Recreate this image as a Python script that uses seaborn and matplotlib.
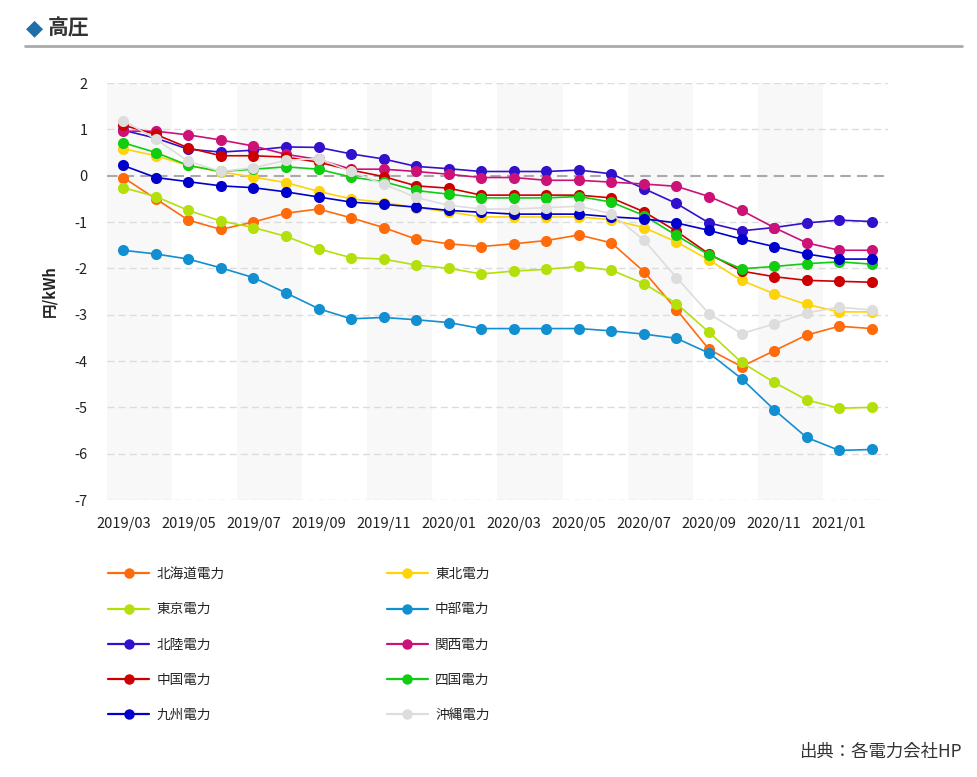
import matplotlib
matplotlib.use("Agg")
import matplotlib.pyplot as plt
import seaborn as sns
import pandas as pd
from matplotlib.lines import Line2D

months = ["2019/03", "2019/04", "2019/05", "2019/06", "2019/07", "2019/08", "2019/09", "2019/10",
          "2019/11", "2019/12", "2020/01", "2020/02", "2020/03", "2020/04", "2020/05", "2020/06",
          "2020/07", "2020/08", "2020/09", "2020/10", "2020/11", "2020/12", "2021/01", "2021/02"]

hokkaido = [-0.04, -0.50, -0.96, -1.16, -1.00, -0.81, -0.72, -0.91, -1.12, -1.37, -1.47, -1.53,
            -1.47, -1.40, -1.28, -1.45, -2.07, -2.89, -3.75, -4.12, -3.78, -3.44, -3.25, -3.30]
tohoku = [0.58, 0.43, 0.22, 0.08, -0.03, -0.15, -0.34, -0.50, -0.58, -0.69, -0.78, -0.89,
          -0.89, -0.89, -0.89, -0.95, -1.12, -1.43, -1.82, -2.26, -2.55, -2.78, -2.94, -2.94]
tokyo = [-0.26, -0.45, -0.75, -0.98, -1.12, -1.31, -1.58, -1.77, -1.80, -1.93, -2.00, -2.12,
         -2.06, -2.02, -1.96, -2.04, -2.33, -2.76, -3.38, -4.03, -4.46, -4.84, -5.02, -5.00]
chubu = [-1.61, -1.69, -1.80, -1.99, -2.20, -2.53, -2.87, -3.09, -3.06, -3.11, -3.17, -3.30,
         -3.30, -3.30, -3.30, -3.35, -3.42, -3.51, -3.83, -4.38, -5.05, -5.65, -5.93, -5.91]
hokuriku = [0.98, 0.81, 0.57, 0.51, 0.55, 0.62, 0.61, 0.47, 0.36, 0.20, 0.15, 0.09,
            0.09, 0.09, 0.12, 0.04, -0.28, -0.60, -1.02, -1.19, -1.12, -1.02, -0.96, -0.99]
kansai = [0.96, 0.96, 0.88, 0.77, 0.64, 0.46, 0.35, 0.14, 0.14, 0.09, 0.03, -0.04,
          -0.04, -0.10, -0.10, -0.14, -0.18, -0.23, -0.45, -0.75, -1.12, -1.45, -1.61, -1.61]
chugoku = [1.09, 0.89, 0.60, 0.43, 0.43, 0.40, 0.29, 0.12, -0.02, -0.22, -0.27, -0.42,
           -0.42, -0.42, -0.42, -0.48, -0.78, -1.20, -1.69, -2.06, -2.18, -2.26, -2.28, -2.30]
shikoku = [0.71, 0.50, 0.22, 0.09, 0.14, 0.19, 0.14, -0.03, -0.13, -0.32, -0.40, -0.48,
           -0.48, -0.48, -0.45, -0.57, -0.86, -1.29, -1.71, -2.01, -1.96, -1.90, -1.86, -1.91]
kyushu = [0.22, -0.04, -0.13, -0.22, -0.26, -0.35, -0.46, -0.57, -0.62, -0.68, -0.75, -0.79,
          -0.83, -0.83, -0.83, -0.89, -0.93, -1.02, -1.18, -1.37, -1.53, -1.69, -1.80, -1.80]
okinawa = [1.19, 0.79, 0.31, 0.09, 0.17, 0.33, 0.37, 0.09, -0.18, -0.47, -0.64, -0.72,
           -0.72, -0.69, -0.66, -0.82, -1.39, -2.20, -2.98, -3.41, -3.20, -2.96, -2.84, -2.90]

companies = ["北海道電力", "東北電力", "東京電力", "中部電力", "北陸電力",
             "関西電力", "中国電力", "四国電力", "九州電力", "沖縄電力"]
series = [hokkaido, tohoku, tokyo, chubu, hokuriku, kansai, chugoku, shikoku, kyushu, okinawa]
colors = ["#ff6a0a", "#ffd30a", "#b3e00b", "#118fd0", "#3311cc",
          "#cc1177", "#cc0000", "#11cc11", "#0000cc", "#dddddd"]
y_ticks = [2, 1, 0, -1, -2, -3, -4, -5, -6, -7]

rows = []
for name, vals in zip(companies, series):
    for i, v in enumerate(vals):
        rows.append({"idx": i, "month": months[i], "company": name, "value": v})
df = pd.DataFrame(rows)

sns.set_theme(style="white")
plt.rcParams["font.family"] = ["Noto Sans CJK JP", "DejaVu Sans"]

W, H = 977, 777
fig = plt.figure(figsize=(W / 100, H / 100), dpi=100)

def px_axes(x0, y0, x1, y1):
    return fig.add_axes([x0 / W, 1 - y1 / H, (x1 - x0) / W, (y1 - y0) / H])

ax = px_axes(107, 83, 888, 500)

# alternating bands
n = len(months)
for start in range(0, n, 4):
    ax.axvspan(start - 0.5, start + 1.5, color="#f8f8f8", zorder=0, lw=0)

for t in y_ticks:
    if t == 0:
        ax.axhline(t, color="#aaaaaa", lw=1.5, ls=(0, (5, 3)), zorder=1)
    else:
        ax.axhline(t, color="#dcdcdc", lw=1.0, ls=(0, (5, 3)), zorder=1)

sns.lineplot(data=df, x="idx", y="value", hue="company", hue_order=companies,
             palette=colors, marker="o", markersize=8, markeredgewidth=0,
             linewidth=1.2, ax=ax, legend=True, zorder=3)

ax.get_legend().remove()

ax.set_xlim(-0.5, n - 0.5)
ax.set_ylim(-7, 2)
ax.set_xticks(range(0, n, 2))
ax.set_xticklabels(months[0::2])
ax.set_yticks(y_ticks)
ax.set_yticklabels([str(t) for t in y_ticks])
ax.tick_params(axis="both", length=0, labelsize=10.5, colors="#222222")
ax.tick_params(axis="y", pad=14)
ax.tick_params(axis="x", pad=12)
ax.set_xlabel("")
ax.set_ylabel("円/kWh", fontsize=10.5, fontweight="bold", color="#222222", labelpad=12)
for s in ax.spines.values():
    s.set_visible(False)
ax.set_facecolor("white")

# legend: column-major order
order = [0, 2, 4, 6, 8, 1, 3, 5, 7, 9]
leg_handles = []
for k in order:
    leg_handles.append(Line2D([0], [0], color=colors[k], lw=1.6, marker="o",
                              markersize=7.5, markeredgewidth=0))
leg = fig.legend(leg_handles, [companies[k] for k in order], ncol=2,
                 loc="upper left", bbox_to_anchor=(96 / W, 1 - 555 / H),
                 frameon=False, fontsize=9.8, handlelength=3.0, handletextpad=0.55,
                 columnspacing=11.9, labelspacing=1.55)
for t in leg.get_texts():
    t.set_color("#222222")

# header
fig.text(26 / W, 1 - 28 / H, "◆", fontsize=16, color="#1f6fa8", va="center", ha="left",
         family=["DejaVu Sans"])
fig.text(48 / W, 1 - 28 / H, "高圧", fontsize=15, fontweight="bold", color="#333333",
         va="center", ha="left")
fig.add_artist(Line2D([25 / W, 962 / W], [1 - 46 / H, 1 - 46 / H], color="#aaaaaa", lw=2))

fig.text(962 / W, 1 - 752 / H, "出典：各電力会社HP", fontsize=12.5, color="#333333",
         ha="right", va="center")

fig.savefig("out.png", dpi=100)
